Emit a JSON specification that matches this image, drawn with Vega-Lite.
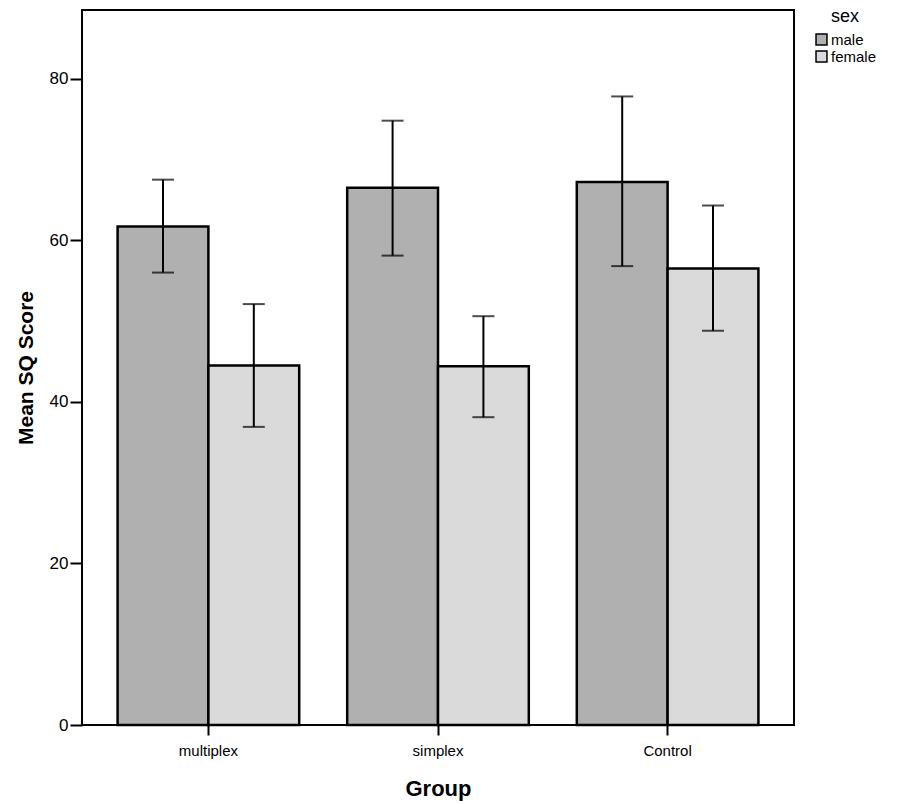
{
  "$schema": "https://vega.github.io/schema/vega-lite/v6.json",
  "width": 712,
  "height": 715,
  "autosize": "none",
  "padding": {"left": 82, "top": 10, "right": 110, "bottom": 79},
  "background": "white",
  "config": {
    "font": "Liberation Sans",
    "view": {"stroke": "black", "strokeWidth": 2}
  },
  "data": {
    "values": [
      {"group": "multiplex", "sex": "male", "mean": 61.7, "lo": 56.0, "hi": 67.5},
      {"group": "multiplex", "sex": "female", "mean": 44.5, "lo": 36.9, "hi": 52.1},
      {"group": "simplex", "sex": "male", "mean": 66.5, "lo": 58.1, "hi": 74.8},
      {"group": "simplex", "sex": "female", "mean": 44.4, "lo": 38.1, "hi": 50.6},
      {"group": "Control", "sex": "male", "mean": 67.2, "lo": 56.8, "hi": 77.8},
      {"group": "Control", "sex": "female", "mean": 56.5, "lo": 48.8, "hi": 64.3}
    ]
  },
  "encoding": {
    "x": {
      "field": "group",
      "type": "nominal",
      "sort": ["multiplex", "simplex", "Control"],
      "scale": {"paddingInner": 0.209, "paddingOuter": 0.155},
      "axis": {
        "title": "Group",
        "titleFontSize": 22,
        "titleFontWeight": "bold",
        "titlePadding": 20,
        "labelFontSize": 15,
        "labelAngle": 0,
        "labelPadding": 8,
        "tickSize": 10,
        "tickWidth": 2,
        "tickColor": "black",
        "domain": false,
        "labelColor": "black",
        "titleColor": "black"
      }
    },
    "xOffset": {"field": "sex", "type": "nominal", "sort": ["male", "female"], "scale": {"paddingInner": 0, "paddingOuter": 0}}
  },
  "layer": [
    {
      "mark": {"type": "bar", "stroke": "black", "strokeWidth": 2.5},
      "encoding": {
        "y": {
          "field": "mean",
          "type": "quantitative",
          "scale": {"domain": [0, 88.5], "nice": false},
          "axis": {
            "title": "Mean SQ Score",
            "titleFontSize": 21,
            "titleFontWeight": "bold",
            "titlePadding": 13,
            "labelFontSize": 17,
            "labelPadding": 2,
            "values": [0, 20, 40, 60, 80],
            "tickSize": 12,
            "tickWidth": 2,
            "tickColor": "black",
            "grid": false,
            "domain": false,
            "labelColor": "black",
            "titleColor": "black"
          }
        },
        "fill": {
          "field": "sex",
          "type": "nominal",
          "sort": ["male", "female"],
          "scale": {"domain": ["male", "female"], "range": ["#b0b0b0", "#dadada"]},
          "legend": {
            "title": "sex",
            "orient": "none",
            "legendX": 732,
            "legendY": -2,
            "titleFontSize": 18,
            "titleFontWeight": "normal",
            "titleAnchor": "middle",
            "titlePadding": 6,
            "labelFontSize": 15,
            "labelOffset": 2,
            "symbolType": "square",
            "symbolSize": 120,
            "symbolStrokeColor": "black",
            "symbolStrokeWidth": 1.5,
            "rowPadding": 0,
            "labelColor": "black",
            "titleColor": "black"
          }
        }
      }
    },
    {
      "mark": {"type": "rule", "color": "black", "strokeWidth": 2},
      "encoding": {
        "y": {"field": "lo", "type": "quantitative"},
        "y2": {"field": "hi"}
      }
    },
    {
      "mark": {"type": "tick", "color": "black", "thickness": 2, "size": 22, "orient": "horizontal"},
      "encoding": {"y": {"field": "lo", "type": "quantitative"}}
    },
    {
      "mark": {"type": "tick", "color": "black", "thickness": 2, "size": 22, "orient": "horizontal"},
      "encoding": {"y": {"field": "hi", "type": "quantitative"}}
    }
  ]
}
